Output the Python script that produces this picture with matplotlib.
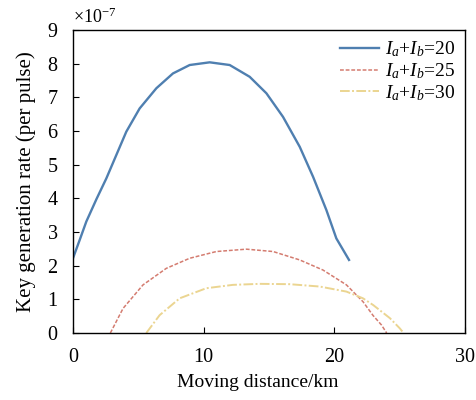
import matplotlib
matplotlib.use("Agg")
import matplotlib.pyplot as plt

plt.rcParams["font.family"] = ["Liberation Serif", "DejaVu Serif"]
plt.rcParams["mathtext.fontset"] = "custom"
plt.rcParams["mathtext.rm"] = "Liberation Serif"
plt.rcParams["mathtext.it"] = "Liberation Serif:italic"

# Key generation rate in units of 1e-7 per pulse
x20 = [0.0, 0.51, 1.02, 1.8, 2.55, 3.32, 4.08, 5.1, 6.38, 7.65, 8.93, 10.46,
       11.99, 13.52, 14.8, 16.07, 17.35, 18.37, 19.39, 20.15, 21.12]
y20 = [2.22, 2.76, 3.31, 3.98, 4.59, 5.29, 5.98, 6.67, 7.27, 7.71, 7.96, 8.04,
       7.96, 7.61, 7.12, 6.42, 5.53, 4.64, 3.65, 2.81, 2.17]

x25 = [2.86, 3.83, 5.36, 7.14, 8.93, 10.97, 13.27, 15.31, 17.35, 19.13,
       20.92, 22.19, 22.96, 23.6, 24.0]
y25 = [0.0, 0.73, 1.43, 1.92, 2.22, 2.42, 2.49, 2.42, 2.17, 1.87,
       1.43, 0.93, 0.52, 0.24, 0.0]

x30 = [5.61, 6.63, 8.16, 10.2, 12.24, 14.29, 16.58, 18.88, 20.92, 22.19,
       22.97, 24.25, 25.0, 25.3]
y30 = [0.0, 0.53, 1.03, 1.33, 1.43, 1.46, 1.45, 1.38, 1.23, 1.03,
       0.83, 0.44, 0.14, 0.0]

fig = plt.figure(figsize=(4.77, 4.0), dpi=100)
ax = fig.add_axes([0.153, 0.1675, 0.822, 0.7575])

ax.plot(x20, y20, color="#4f7fb0", lw=1.7, label=r"$I_a$+$I_b$=20",
        solid_joinstyle="round")
ax.plot(x25, y25, color="#d47c70", lw=1.1, ls=(0, (2.5, 1.2)),
        label=r"$I_a$+$I_b$=25")
ax.plot(x30, y30, color="#ebd591", lw=1.4, ls=(0, (5, 1.2, 1, 1.2)),
        label=r"$I_a$+$I_b$=30")

ax.set_xlim(0, 30)
ax.set_ylim(0, 9)
ax.set_xticks([0, 10, 20, 30])
ax.set_yticks(range(10))
ax.tick_params(direction="in", length=4, labelsize=14.5, pad=11,
               top=False, right=False)
for s in ax.spines.values():
    s.set_linewidth(1.0)

ax.set_xlabel("Moving distance/km", fontsize=14, labelpad=7)
ax.xaxis.set_label_coords(0.47, -0.135)
ax.set_ylabel("Key generation rate (per pulse)", fontsize=15, labelpad=8)
ax.text(0.0, 1.01, r"$\times$10$^{-7}$", transform=ax.transAxes,
        fontsize=13, ha="left", va="bottom")

ax.legend(loc="upper right", frameon=False, fontsize=14, handlelength=2.0,
          labelspacing=0.1, handletextpad=0.3, borderaxespad=0.1,
          bbox_to_anchor=(1.0, 1.0))

fig.savefig("out.png", dpi=100)
